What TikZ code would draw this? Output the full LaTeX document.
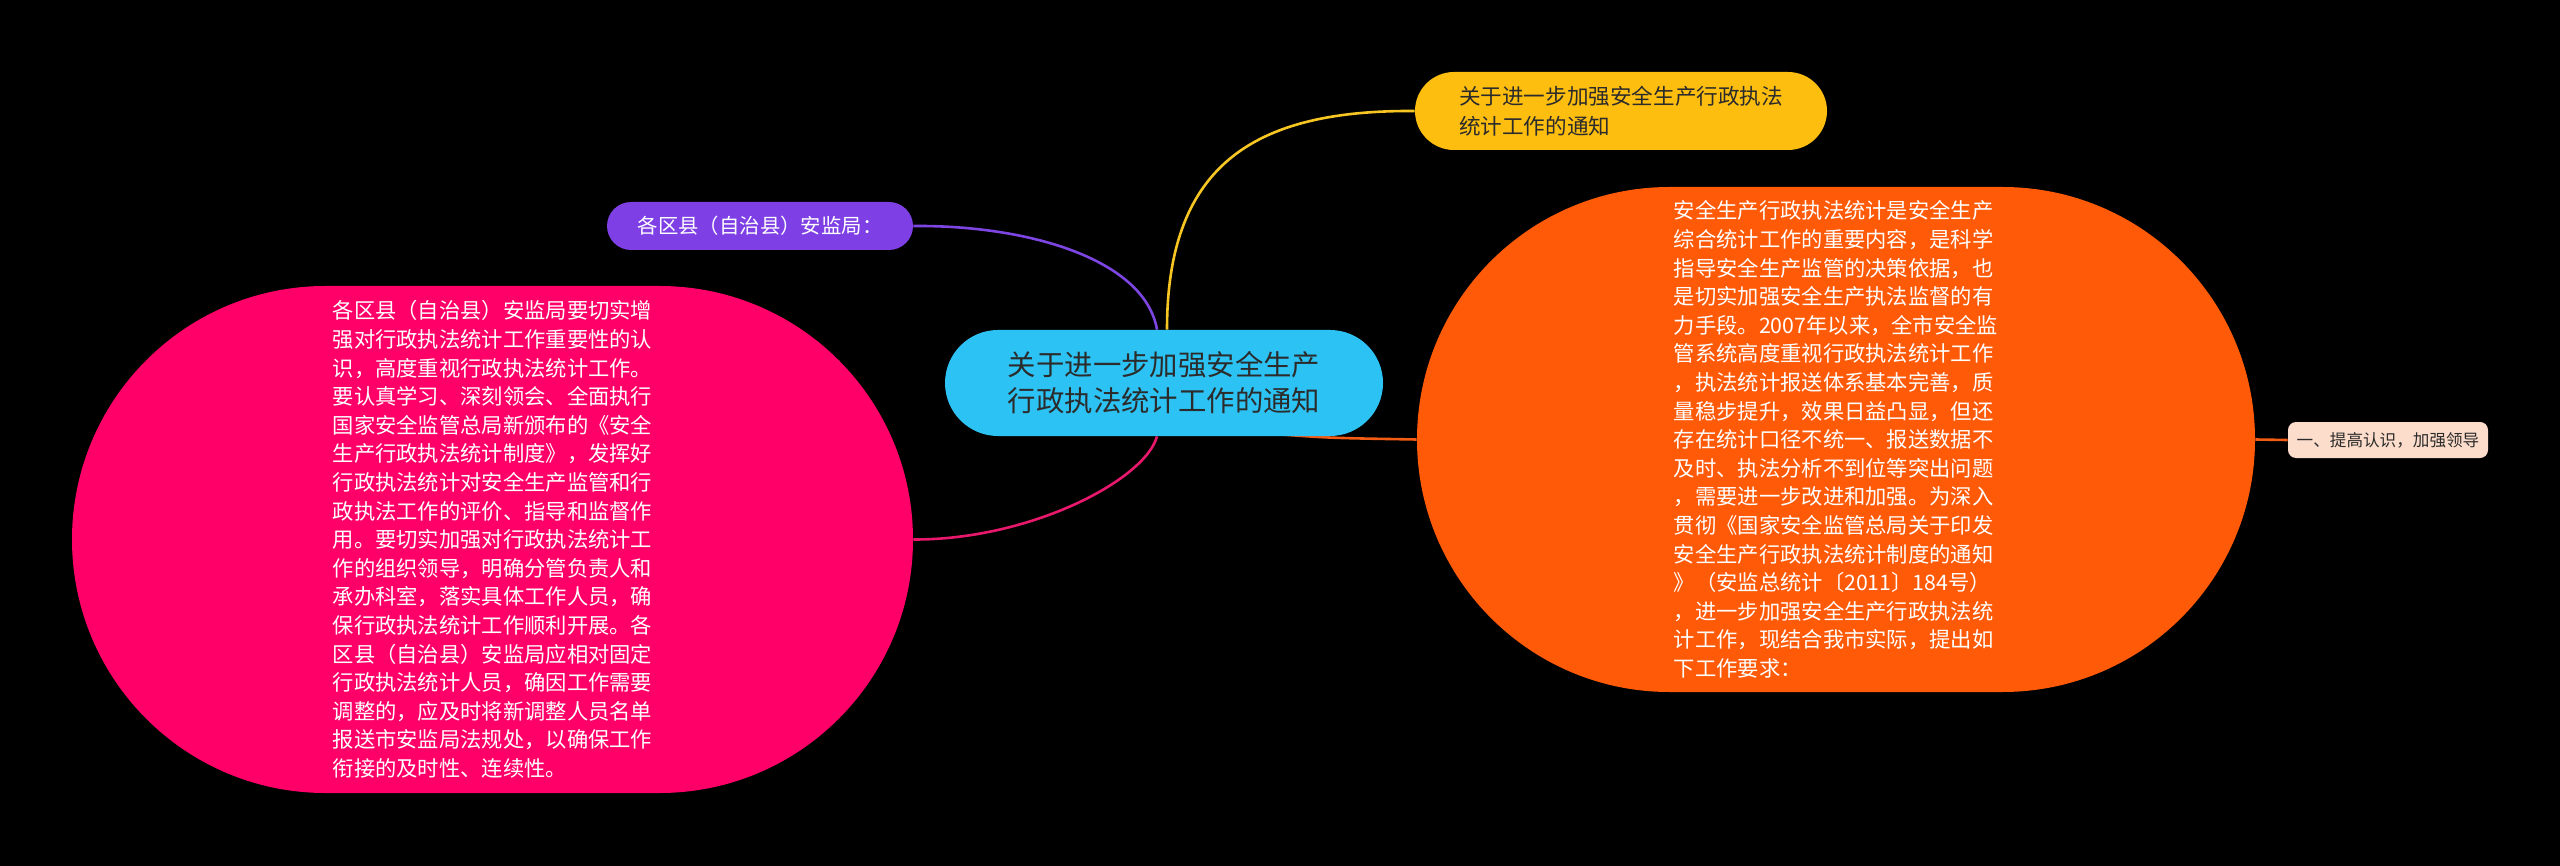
\documentclass[tikz,border=0pt]{standalone}
\usepackage{fontspec}
\setmainfont{Noto Sans CJK SC}
\usepackage{tikz}
\usetikzlibrary{shapes.misc,backgrounds}
\definecolor{topicblue}{HTML}{2CC3F4}
\definecolor{branchyellow}{HTML}{FDBE10}
\definecolor{branchpurple}{HTML}{7E3FE4}
\definecolor{branchpink}{HTML}{FE0068}
\definecolor{branchorange}{HTML}{FE5A08}
\definecolor{leafpeach}{HTML}{FCDCCA}
\definecolor{textdark}{HTML}{2B2B2B}
\definecolor{lineyellow}{HTML}{F7C623}
\definecolor{linepurple}{HTML}{7D45E2}
\definecolor{linepink}{HTML}{E8186C}
\definecolor{lineorange}{HTML}{F25C14}

\begin{document}
\begin{tikzpicture}[x=0.5pt,y=-0.5pt,
    topic/.style={rounded rectangle, inner sep=0pt, fill=topicblue, text=textdark, align=center, minimum width=219pt, minimum height=53pt, font=\fontsize{14.2}{18}\selectfont},
    branch/.style={rounded rectangle, inner sep=0pt, align=left, font=\fontsize{10.65}{14.3}\selectfont},
    leaf/.style={rectangle, rounded corners=4pt, inner sep=0pt, fill=leafpeach, text=textdark, minimum width=100pt, minimum height=18pt, font=\fontsize{8.3}{10}\selectfont},
    link/.style={line width=1.3pt}
]
    % Background
    \useasboundingbox (0,0) rectangle (2560,866);

    % Center
    \node[topic] (topic) at (1164,383) {关于进一步加强安全生产\\行政执法统计工作的通知};

    % Branches
    \node[branch, fill=branchyellow, text=textdark, minimum width=206pt, minimum height=39pt, font=\fontsize{10.8}{15}\selectfont] (notice) at (1621,111) {关于进一步加强安全生产行政执法\\统计工作的通知};
    \node[branch, fill=branchpurple, text=white, minimum width=153pt, minimum height=24pt, font=\fontsize{10.2}{12}\selectfont] (county) at (760,226) {各区县（自治县）安监局：};
    \node[branch, fill=branchpink, text=white, minimum width=420.5pt, minimum height=253.5pt] (duty) at (492.5,539.5) {各区县（自治县）安监局要切实增\\强对行政执法统计工作重要性的认\\识，高度重视行政执法统计工作。\\要认真学习、深刻领会、全面执行\\国家安全监管总局新颁布的《安全\\生产行政执法统计制度》，发挥好\\行政执法统计对安全生产监管和行\\政执法工作的评价、指导和监督作\\用。要切实加强对行政执法统计工\\作的组织领导，明确分管负责人和\\承办科室，落实具体工作人员，确\\保行政执法统计工作顺利开展。各\\区县（自治县）安监局应相对固定\\行政执法统计人员，确因工作需要\\调整的，应及时将新调整人员名单\\报送市安监局法规处，以确保工作\\衔接的及时性、连续性。};
    \node[branch, fill=branchorange, text=white, minimum width=419pt, minimum height=252.5pt] (intro) at (1836,439.5) {安全生产行政执法统计是安全生产\\综合统计工作的重要内容，是科学\\指导安全生产监管的决策依据，也\\是切实加强安全生产执法监督的有\\力手段。2007年以来，全市安全监\\管系统高度重视行政执法统计工作\\，执法统计报送体系基本完善，质\\量稳步提升，效果日益凸显，但还\\存在统计口径不统一、报送数据不\\及时、执法分析不到位等突出问题\\，需要进一步改进和加强。为深入\\贯彻《国家安全监管总局关于印发\\安全生产行政执法统计制度的通知\\》（安监总统计〔2011〕184号）\\，进一步加强安全生产行政执法统\\计工作，现结合我市实际，提出如\\下工作要求：};

    % Leaf
    \node[leaf] (lead) at (2388,440) {一、提高认识，加强领导};

    \begin{pgfonlayer}{background}
        \fill[black] (0,0) rectangle (2560,866);
        \draw[link, lineyellow] ([xshift=1.5pt]topic.north) .. controls (1167,160) and (1260,110) .. (notice.west);
        \draw[link, linepurple] ([xshift=-3.5pt]topic.north) .. controls (1145,260) and (1030,225) .. (county.east);
        \draw[link, linepink] ([xshift=-3.5pt]topic.south) .. controls (1145,480) and (1030,540) .. (duty.east);
        \draw[link, lineorange] ([xshift=58pt,yshift=1pt]topic.south) .. controls (1330,438) .. (intro.west);
        \draw[link, lineorange] (intro.east) -- (lead.west);
    \end{pgfonlayer}
\end{tikzpicture}
\end{document}
